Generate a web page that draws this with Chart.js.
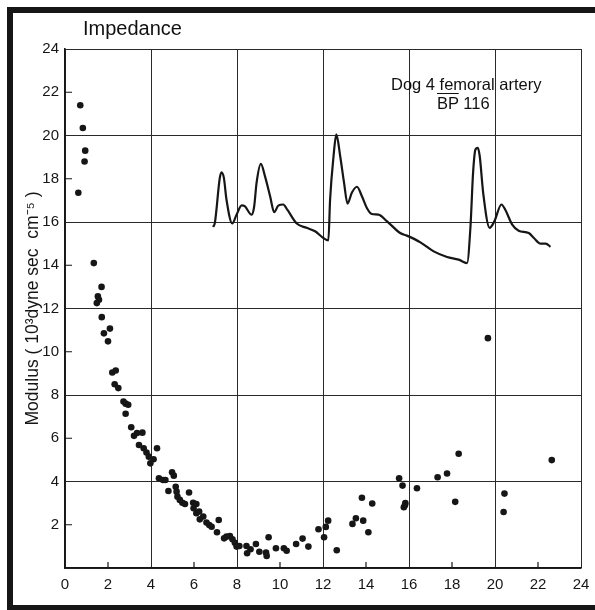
<!DOCTYPE html>
<html>
<head>
<meta charset="utf-8">
<script src="https://cdn.jsdelivr.net/npm/chart.js@4.4.1/dist/chart.umd.min.js"></script>
<style>
  html, body { margin: 0; padding: 0; background: #fff; }
  #wrap { position: relative; width: 595px; height: 610px; overflow: hidden; font-family: "Liberation Sans", Arial, sans-serif; color: #111; }
  #chart { position: absolute; left: 0; top: 0; }
  .frame { position: absolute; background: #161616; }
  .txt { position: absolute; line-height: 1; white-space: nowrap; }
  .bar { text-decoration: overline; }
</style>
</head>
<body>
<div id="wrap">
  <canvas id="chart" width="595" height="610"></canvas>
  <div class="frame" style="left:7px;top:7px;width:588px;height:6px"></div>
  <div class="frame" style="left:7px;top:7px;width:6px;height:603px"></div>
  <div class="frame" style="left:7px;top:605px;width:588px;height:5px"></div>
  <div class="txt" style="left:83px;top:18px;font-size:20px">Impedance</div>
  <div class="txt" style="left:391px;top:76px;font-size:16.5px">Dog 4 femoral artery</div>
  <div class="txt" style="left:437px;top:95px;font-size:16.5px"><span class="bar">BP</span> 116</div>
</div>
<script>
// scattered modulus points (harmonic frequency, modulus)
const dotX = [0.71, 0.83, 0.94, 0.91, 0.62, 1.34, 1.70, 1.53, 1.58, 1.48, 1.71, 1.81, 2.09, 2.00,
  2.20, 2.36, 2.31, 2.48, 2.72, 2.82, 2.94, 2.82, 3.08, 3.21, 3.35, 3.60, 3.44, 3.66, 3.79, 3.90,
  3.97, 4.12, 4.28, 4.37, 4.56, 4.67, 4.98, 5.06, 4.81, 5.15, 5.19, 5.23, 5.34, 5.46, 5.58, 5.77,
  5.96, 6.11, 5.98, 6.11, 6.24, 6.27, 6.43, 6.58, 6.71, 6.82, 7.15, 7.07, 7.40, 7.51, 7.67, 7.79,
  7.90, 7.98, 8.11, 8.44, 8.47, 8.63, 8.88, 9.04, 9.35, 9.38, 9.47, 9.81, 10.18, 10.31, 10.75,
  11.05, 11.32, 11.79, 12.05, 12.13, 12.24, 12.64, 13.37, 13.53, 13.81, 13.87, 14.11, 14.29,
  15.54, 15.70, 15.83, 15.76, 15.81, 16.37, 17.33, 17.77, 18.15, 18.31, 19.67, 20.44, 20.40, 22.64];
const dotY = [21.4, 20.35, 19.3, 18.8, 17.35, 14.1, 13.0, 12.56, 12.4, 12.25, 11.6, 10.85, 11.07, 10.48,
  9.04, 9.13, 8.5, 8.32, 7.7, 7.6, 7.55, 7.13, 6.51, 6.11, 6.24, 6.26, 5.69, 5.54, 5.34, 5.15,
  4.84, 5.03, 5.54, 4.15, 4.07, 4.07, 4.43, 4.27, 3.56, 3.76, 3.53, 3.3, 3.15, 3.02, 2.96, 3.49,
  3.02, 2.96, 2.76, 2.53, 2.61, 2.25, 2.38, 2.10, 1.99, 1.91, 2.22, 1.65, 1.37, 1.45, 1.48, 1.33,
  1.17, 0.99, 1.02, 1.02, 0.68, 0.87, 1.11, 0.75, 0.71, 0.56, 1.42, 0.91, 0.91, 0.80, 1.11,
  1.36, 0.99, 1.79, 1.42, 1.90, 2.19, 0.82, 2.04, 2.30, 3.25, 2.19, 1.65, 2.98,
  4.15, 3.81, 3.00, 2.81, 2.90, 3.69, 4.20, 4.37, 3.06, 5.28, 10.63, 3.44, 2.59, 4.99];

// pressure trace drawn over the grid
const curveX = [6.89, 6.97, 7.20, 7.28, 7.39, 7.51, 7.78, 7.98, 8.22, 8.36, 8.68, 8.80, 8.91, 9.11,
  9.30, 9.54, 9.73, 9.92, 10.15, 10.34, 10.78, 11.24, 11.63, 12.02, 12.25, 12.33, 12.49, 12.62,
  12.80, 12.98, 13.14, 13.34, 13.58, 13.81, 14.04, 14.27, 14.58, 14.98, 15.59, 15.90, 16.53,
  17.15, 17.77, 18.31, 18.70, 18.86, 18.98, 19.09, 19.20, 19.29, 19.45, 19.75, 19.97, 20.30,
  20.49, 20.80, 21.10, 21.57, 21.81, 22.12, 22.36, 22.58];
const curveY = [15.77, 15.96, 18.04, 18.3, 18.04, 17.04, 15.93, 16.34, 16.77, 16.73, 16.34, 16.73, 17.81, 18.69,
  18.12, 17.19, 16.45, 16.76, 16.81, 16.57, 15.93, 15.73, 15.57, 15.26, 15.15, 17.04, 19.04, 20.05,
  19.04, 17.81, 16.85, 17.35, 17.63, 17.19, 16.65, 16.37, 16.34, 16.03, 15.49, 15.37, 15.06,
  14.64, 14.38, 14.26, 14.1, 15.8, 18.27, 19.35, 19.43, 19.04, 17.35, 15.73, 16.03, 16.81,
  16.54, 15.88, 15.6, 15.49, 15.26, 15.0, 15.0, 14.85];

const axisMin = 0;
const axisMax = 24;
const tickStep = 2;
const gridStep = 4;
const minorTicks = [2, 6, 10, 14, 18, 22];

const ink = "#161616";

function gridColor(ctx) {
  return ctx.tick && ctx.tick.value % gridStep === 0 ? "#2a2a2a" : "rgba(0,0,0,0)";
}

// short inward tick marks at the values that have no grid line
const innerTicks = {
  id: "innerTicks",
  afterDraw(chart) {
    const { ctx, chartArea, scales } = chart;
    ctx.save();
    ctx.strokeStyle = ink;
    ctx.lineWidth = 1.2;
    ctx.beginPath();
    minorTicks.forEach((v) => {
      const px = scales.x.getPixelForValue(v);
      ctx.moveTo(px, chartArea.bottom);
      ctx.lineTo(px, chartArea.bottom - 6);
      const py = scales.y.getPixelForValue(v);
      ctx.moveTo(chartArea.left, py);
      ctx.lineTo(chartArea.left + 7, py);
    });
    ctx.stroke();
    ctx.restore();
  }
};

Chart.defaults.font.family = "'Liberation Sans', Arial, sans-serif";
Chart.defaults.font.size = 15;
Chart.defaults.color = ink;

new Chart(document.getElementById("chart").getContext("2d"), {
  type: "scatter",
  data: {
    datasets: [
      {
        label: "Modulus",
        data: dotX.map((x, i) => ({ x, y: dotY[i] })),
        backgroundColor: ink,
        borderColor: ink,
        pointRadius: 3.3,
        borderWidth: 0
      },
      {
        label: "Pressure",
        data: curveX.map((x, i) => ({ x, y: curveY[i] })),
        showLine: true,
        borderColor: ink,
        borderWidth: 2.2,
        pointRadius: 0,
        cubicInterpolationMode: "monotone"
      }
    ]
  },
  options: {
    responsive: false,
    animation: false,
    devicePixelRatio: 1,
    layout: { padding: { top: 49, right: 14, left: 0, bottom: 0 } },
    plugins: {
      legend: { display: false },
      tooltip: { enabled: false }
    },
    scales: {
      x: {
        type: "linear",
        min: axisMin,
        max: axisMax,
        afterFit(scale) {
          scale.height = 42;
          scale.paddingLeft = 0;
          scale.paddingRight = 0;
        },
        ticks: { stepSize: tickStep, padding: 8, maxRotation: 0, autoSkip: false },
        grid: { color: gridColor, lineWidth: 1, drawTicks: false },
        border: { display: true, color: ink, width: 1.6 }
      },
      y: {
        type: "linear",
        min: axisMin,
        max: axisMax,
        afterFit(scale) { scale.width = 65; },
        ticks: {
          stepSize: tickStep,
          padding: 6,
          autoSkip: false,
          callback: (v) => (v === 0 ? "" : v)
        },
        grid: { color: gridColor, lineWidth: 1, drawTicks: false },
        border: { display: true, color: ink, width: 1.6 },
        title: {
          display: true,
          text: "Modulus ( 10³dyne sec  cm⁻⁵ )",
          font: { size: 17.5 },
          padding: { top: 23, bottom: 0 }
        }
      }
    }
  },
  plugins: [innerTicks]
});
</script>
</body>
</html>
